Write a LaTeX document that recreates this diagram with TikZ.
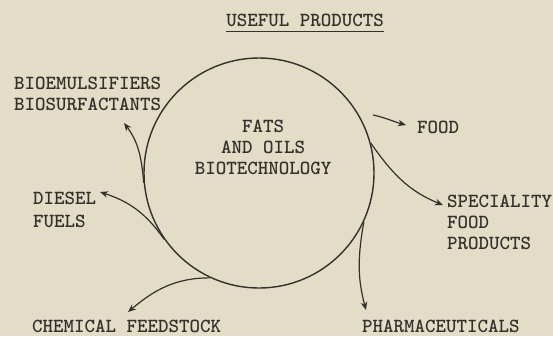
\documentclass[tikz,border=0pt]{standalone}
\usepackage{fontspec}
\usetikzlibrary{calc, arrows.meta, positioning}

\begin{document}
\begin{tikzpicture}[
    x=1bp, y=1bp,
    >={Stealth[length=8bp, width=6.5bp]},
    font=\ttfamily\bfseries\fontsize{20bp}{21bp}\selectfont,
    lbl/.style={text=tink, inner sep=0pt, anchor=west, align=left},
    flow/.style={->, draw=tink, line width=1.2bp},
    hub/.style={circle, draw=tink, line width=1.4bp, minimum size=230bp, inner sep=0pt}
]

\definecolor{paper}{RGB}{227,220,198}
\definecolor{tink}{RGB}{52,48,44}

\fill[paper] (0,0) rectangle (553,-336);
\useasboundingbox (0,0) rectangle (553,-336);

\node[lbl, anchor=center] (title) at (305,-20) {USEFUL PRODUCTS};
\draw[tink, line width=1.6bp] ($(title.south west)+(0,-5)$) -- ($(title.south east)+(0,-5)$);

\node[hub] (circ) at (259,-173) {};
\node[lbl, anchor=center, align=center] (fats) at (263,-147) {FATS\\AND OILS\\BIOTECHNOLOGY};

\node[lbl] (bio) at (14,-93.5) {BIOEMULSIFIERS\\BIOSURFACTANTS};
\node[lbl, font=\ttfamily\bfseries\fontsize{20bp}{23bp}\selectfont] (diesel) at (33,-209.5) {DIESEL\\FUELS};
\node[lbl] (chem) at (32,-326) {CHEMICAL FEEDSTOCK};
\node[lbl] (pharma) at (362,-326) {PHARMACEUTICALS};
\node[lbl] (spec) at (447,-222) {SPECIALITY\\FOOD\\PRODUCTS};
\node[lbl] (food) at (417,-127) {FOOD};

\coordinate (bioTip) at (124,-123);
\coordinate (dieselTip) at (100,-192);
\coordinate (chemTip) at (128,-312);
\coordinate (pharmaTip) at (366,-310);
\coordinate (specTip) at (443,-205);
\coordinate (foodStart) at (373,-115);
\coordinate (foodTip) at (406,-125);

\draw[flow] (circ.185) to[out=95, in=-53] (bioTip);
\draw[flow] (circ.215) to[out=125, in=-18] (dieselTip);
\draw[flow] (circ.245) to[out=180, in=40] (chemTip);
\draw[flow] (circ.-25) to[out=-100, in=105] (pharmaTip);
\draw[flow] (circ.15) to[out=-55, in=158] (specTip);
\draw[flow] (foodStart) to[out=-12, in=165] (foodTip);

\end{tikzpicture}
\end{document}
